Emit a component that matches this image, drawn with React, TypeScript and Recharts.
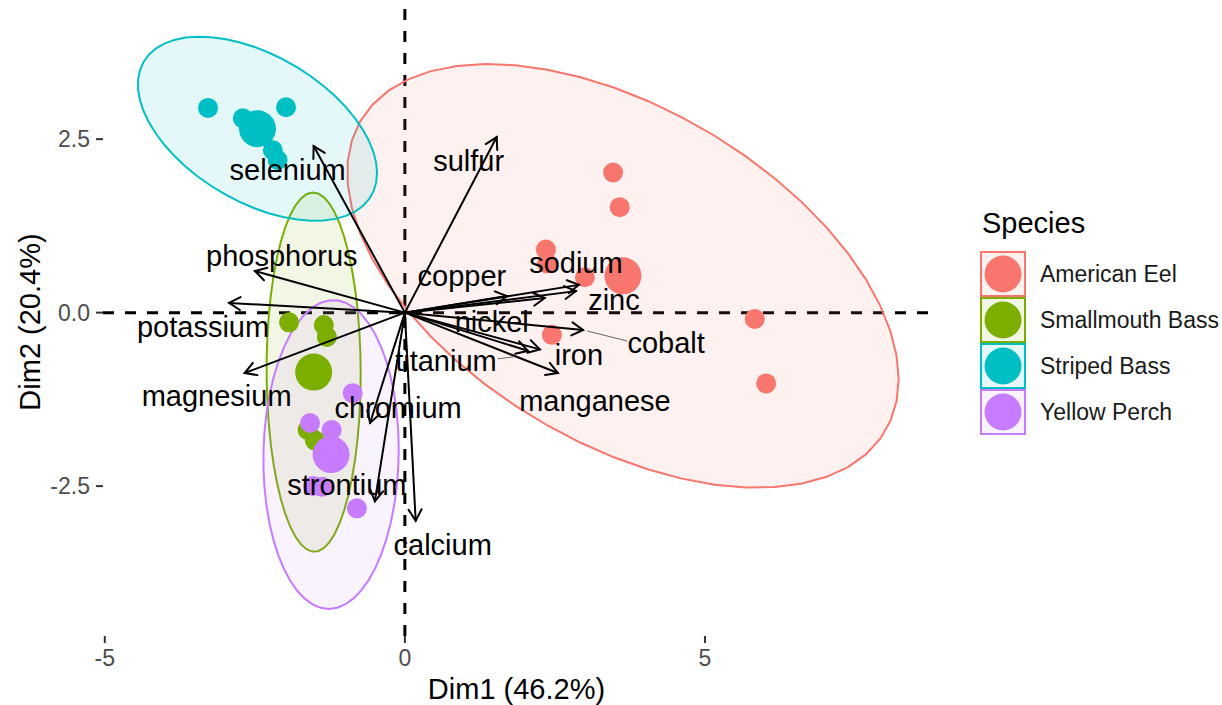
import React from 'react';
import { ScatterChart, Scatter, XAxis, YAxis, ReferenceLine, Legend, Label } from 'recharts';

const FONT = '"Liberation Sans", Arial, Helvetica, sans-serif';

type Pt = { x: number; y: number };

// individuals, PCA coordinates (Dim1, Dim2)
const americanEel: Pt[] = [
  { x: 3.47, y: 2.02 },
  { x: 3.58, y: 1.52 },
  { x: 2.35, y: 0.91 },
  { x: 2.37, y: 0.71 },
  { x: 3.0, y: 0.51 },
  { x: 2.45, y: -0.32 },
  { x: 5.83, y: -0.09 },
  { x: 6.02, y: -1.02 },
];
const smallmouthBass: Pt[] = [
  { x: -1.93, y: -0.14 },
  { x: -1.35, y: -0.18 },
  { x: -1.3, y: -0.35 },
  { x: -1.42, y: -0.94 },
  { x: -1.62, y: -1.69 },
  { x: -1.5, y: -1.84 },
];
const stripedBass: Pt[] = [
  { x: -3.28, y: 2.95 },
  { x: -1.98, y: 2.96 },
  { x: -2.7, y: 2.8 },
  { x: -2.2, y: 2.34 },
  { x: -2.12, y: 2.2 },
];
const yellowPerch: Pt[] = [
  { x: -0.87, y: -1.16 },
  { x: -1.58, y: -1.59 },
  { x: -1.22, y: -1.69 },
  { x: -0.8, y: -2.82 },
  { x: -1.53, y: -2.5 },
  { x: -1.38, y: -2.51 },
];

const speciesNames = ['American Eel', 'Smallmouth Bass', 'Striped Bass', 'Yellow Perch'];
const speciesColors = ['#F8766D', '#7CAE00', '#00BFC4', '#C77CFF'];
const speciesPoints = [americanEel, smallmouthBass, stripedBass, yellowPerch];

// variables (arrows)
const variables = [
  'sulfur', 'selenium', 'phosphorus', 'potassium', 'magnesium', 'chromium', 'strontium', 'calcium',
  'copper', 'sodium', 'zinc', 'nickel', 'cobalt', 'iron', 'titanium', 'manganese',
];
const loadDim1 = [1.53, -1.52, -2.5, -2.93, -2.67, -0.58, -0.5, 0.18, 1.7, 2.9, 2.85, 2.33, 2.97, 2.25, 2.05, 2.55];
const loadDim2 = [2.53, 2.4, 0.6, 0.14, -0.87, -1.59, -2.72, -3.0, 0.24, 0.4, 0.31, 0.21, -0.25, -0.53, -0.55, -0.87];

const xTicks = [-5, 0, 5];
const yTicks = [-2.5, 0, 2.5];

// repelled label offsets (px) from the arrow tip
const labelNudge: Record<string, [number, number]> = {
  sulfur: [-28, 24],
  selenium: [-26, 24],
  phosphorus: [27, -15],
  potassium: [-26, 24],
  magnesium: [-28, 23],
  chromium: [28, -15],
  strontium: [-28, -17],
  calcium: [27, 24],
  copper: [-45, -20],
  sodium: [-3, -22],
  zinc: [38, 9],
  nickel: [-53, 24],
  cobalt: [83, 13],
  iron: [39, 5],
  titanium: [-82, 10],
  manganese: [37, 28],
};
const labelLeader: Record<string, [number, number, number, number]> = {
  cobalt: [4, 1, 44, 11],
  titanium: [-30, 8, -14, 6],
};

const X_MIN = -5.03;
const X_MAX = 8.75;
const Y_MIN = -4.66;
const Y_MAX = 4.39;

const mean = (a: number[]) => a.reduce((s, v) => s + v, 0) / a.length;

// same as stat_ellipse(type = "norm", level = 0.95)
function normEllipse(pts: Pt[], level = 0.95, segments = 51): Pt[] {
  const n = pts.length;
  const mx = mean(pts.map((p) => p.x));
  const my = mean(pts.map((p) => p.y));
  let sxx = 0, syy = 0, sxy = 0;
  pts.forEach((p) => {
    const dx = p.x - mx, dy = p.y - my;
    sxx += dx * dx; syy += dy * dy; sxy += dx * dy;
  });
  sxx /= n - 1; syy /= n - 1; sxy /= n - 1;
  const a = Math.sqrt(sxx);
  const b = sxy / a;
  const c = Math.sqrt(syy - b * b);
  const dfd = n - 1;
  const qf = (dfd / 2) * (Math.pow(1 - level, -2 / dfd) - 1);
  const r = Math.sqrt(2 * qf);
  const out: Pt[] = [];
  for (let i = 0; i <= segments; i++) {
    const t = (2 * Math.PI * i) / segments;
    out.push({ x: mx + r * a * Math.cos(t), y: my + r * (b * Math.cos(t) + c * Math.sin(t)) });
  }
  return out;
}

const groups = speciesNames.map((name, i) => ({
  name,
  color: speciesColors[i],
  points: speciesPoints[i],
  ellipse: normEllipse(speciesPoints[i]),
  center: [{ x: mean(speciesPoints[i].map((p) => p.x)), y: mean(speciesPoints[i].map((p) => p.y)) }],
}));

const loadings = variables.map((name, i) => ({ name, x: loadDim1[i], y: loadDim2[i] }));

const noShape = () => <g />;

const ellipseLine = (color: string) => (props: any) => {
  const pts = (props.points || []) as { x: number; y: number }[];
  const d = pts.map((p, i) => `${i ? 'L' : 'M'}${p.x},${p.y}`).join('') + 'Z';
  return <path d={d} fill={color} fillOpacity={0.1} stroke={color} strokeWidth={2} />;
};

const dot = (color: string, r: number) => (props: any) => (
  <circle cx={props.cx} cy={props.cy} r={r} fill={color} />
);

const arrowLine = (props: any) => {
  const pts = props.points || [];
  if (pts.length < 2) return <g />;
  const [p0, p1] = pts;
  const ang = Math.atan2(p1.y - p0.y, p1.x - p0.x);
  const len = 13;
  const h = Math.PI / 6;
  const ax = p1.x - len * Math.cos(ang - h);
  const ay = p1.y - len * Math.sin(ang - h);
  const bx = p1.x - len * Math.cos(ang + h);
  const by = p1.y - len * Math.sin(ang + h);
  return (
    <g stroke="#000" strokeWidth={2} fill="none" strokeLinecap="round">
      <line x1={p0.x} y1={p0.y} x2={p1.x} y2={p1.y} />
      <polyline points={`${ax},${ay} ${p1.x},${p1.y} ${bx},${by}`} />
    </g>
  );
};

const varLabel = (props: any) => {
  const name = props.payload.name as string;
  const [dx, dy] = labelNudge[name] || [0, 0];
  const leader = labelLeader[name];
  return (
    <g>
      {leader && (
        <line
          x1={props.cx + leader[0]}
          y1={props.cy + leader[1]}
          x2={props.cx + leader[2]}
          y2={props.cy + leader[3]}
          stroke="#666"
          strokeWidth={1}
        />
      )}
      <text
        x={props.cx + dx}
        y={props.cy + dy}
        dy="0.35em"
        textAnchor="middle"
        fontSize={29}
        fontFamily={FONT}
        fill="#000"
      >
        {name}
      </text>
    </g>
  );
};

const renderLegend = () => (
  <svg width={250} height={240} style={{ fontFamily: FONT }}>
    <text x={10} y={33} fontSize={29} fill="#000">
      Species
    </text>
    {groups.map((g, i) => {
      const top = 51 + i * 46;
      return (
        <g key={g.name}>
          <rect x={9} y={top + 1} width={44} height={44} fill={g.color} fillOpacity={0.1} stroke={g.color} strokeWidth={2} />
          <circle cx={31} cy={top + 23} r={18.5} fill={g.color} />
          <text x={68} y={top + 31} fontSize={23} fill="#1a1a1a">
            {g.name}
          </text>
        </g>
      );
    })}
  </svg>
);

export default function App() {
  return (
    <div style={{ position: 'absolute', left: 0, top: 0, width: 1222, height: 705, background: '#fff' }}>
      <ScatterChart width={1222} height={705} margin={{ top: 8, right: 42, bottom: 0, left: 0 }}>
        <XAxis
          type="number"
          dataKey="x"
          domain={[X_MIN, X_MAX]}
          ticks={xTicks}
          interval={0}
          allowDataOverflow
          axisLine={false}
          tickLine={{ stroke: '#333', strokeWidth: 2 }}
          tickSize={7}
          tickMargin={7}
          height={69}
          tick={{ fill: '#4D4D4D', fontSize: 23, fontFamily: FONT }}
          tickFormatter={(v: number) => String(v)}
        >
          <Label value="Dim1 (46.2%)" position="insideBottom" offset={6} fill="#000" fontSize={29} fontFamily={FONT} />
        </XAxis>
        <YAxis
          type="number"
          dataKey="y"
          domain={[Y_MIN, Y_MAX]}
          ticks={yTicks}
          interval={0}
          allowDataOverflow
          axisLine={false}
          tickLine={{ stroke: '#333', strokeWidth: 2 }}
          tickSize={7}
          tickMargin={6}
          width={103}
          tick={{ fill: '#4D4D4D', fontSize: 23, fontFamily: FONT }}
          tickFormatter={(v: number) => v.toFixed(1)}
        >
          <Label
            value="Dim2 (20.4%)"
            angle={-90}
            position="insideLeft"
            offset={30}
            fill="#000"
            fontSize={29}
            fontFamily={FONT}
            style={{ textAnchor: 'middle' }}
          />
        </YAxis>
        <Legend
          layout="vertical"
          align="right"
          verticalAlign="top"
          wrapperStyle={{ left: 972, top: 200, width: 250 }}
          content={renderLegend}
        />
        {groups.map((g) => (
          <Scatter
            key={`ell-${g.name}`}
            data={g.ellipse}
            line={ellipseLine(g.color)}
            shape={noShape}
            legendType="none"
            isAnimationActive={false}
          />
        ))}
        {groups.map((g) => (
          <Scatter
            key={`pts-${g.name}`}
            name={g.name}
            data={g.points}
            shape={dot(g.color, 10)}
            fill={g.color}
            isAnimationActive={false}
          />
        ))}
        {groups.map((g) => (
          <Scatter
            key={`mean-${g.name}`}
            data={g.center}
            shape={dot(g.color, 18.5)}
            legendType="none"
            isAnimationActive={false}
          />
        ))}
        <ReferenceLine x={0} stroke="#000" strokeWidth={3} strokeDasharray="11 11" />
        <ReferenceLine y={0} stroke="#000" strokeWidth={3} strokeDasharray="11 11" />
        {loadings.map((v) => (
          <Scatter
            key={`arrow-${v.name}`}
            data={[{ x: 0, y: 0 }, { x: v.x, y: v.y }]}
            line={arrowLine}
            shape={noShape}
            legendType="none"
            isAnimationActive={false}
          />
        ))}
        <Scatter data={loadings} shape={varLabel} legendType="none" isAnimationActive={false} />
      </ScatterChart>
    </div>
  );
}
